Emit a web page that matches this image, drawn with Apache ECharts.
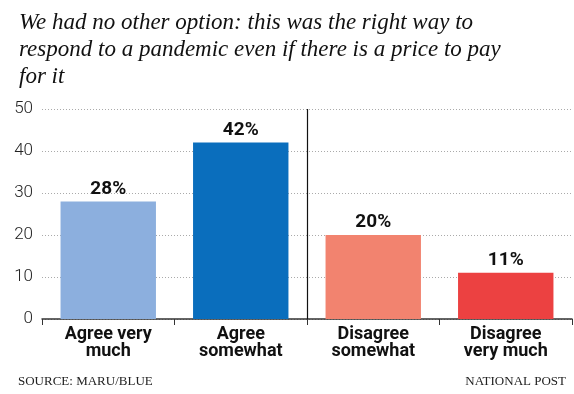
<!DOCTYPE html>
<html><head><meta charset="utf-8">
<script src="https://cdn.jsdelivr.net/npm/echarts@6/dist/echarts.min.js"></script>
<style>html,body{margin:0;padding:0;background:#fff}#c{width:574px;height:394px}</style>
</head><body><div id="c"></div>
<script>
const titleText = "We had no other option: this was the right way to\nrespond to a pandemic even if there is a price to pay\nfor it";
const categories = ["Agree very\nmuch", "Agree\nsomewhat", "Disagree\nsomewhat", "Disagree\nvery much"];
const values = [28, 42, 20, 11];
const barColors = ["#8CAFDE", "#0A6EBD", "#F2836F", "#EC4141"];
const yTicks = { min: 0, max: 50, interval: 10 };
const dividerIndex = 2;
const sourceText = "SOURCE: MARU/BLUE";
const creditText = "NATIONAL POST";

const chart = echarts.init(document.getElementById('c'), null, {renderer: 'canvas'});
chart.setOption({
  animation: false,
  backgroundColor: '#fff',
  title: [{
    text: titleText, left: 14, top: 4,
    textStyle: {fontFamily: 'Liberation Serif', fontStyle: 'italic', fontWeight: 'normal', fontSize: 23, lineHeight: 27, color: '#111'}
  }, {
    text: sourceText, left: 13, top: 370,
    textStyle: {fontFamily: 'Liberation Serif', fontWeight: 'normal', fontSize: 13, color: '#222'}
  }, {
    text: creditText, right: 3, top: 370,
    textStyle: {fontFamily: 'Liberation Serif', fontWeight: 'normal', fontSize: 13, color: '#222'}
  }],
  grid: {left: 42, right: 2, top: 109, bottom: 75},
  xAxis: [{
    type: 'category', data: categories,
    axisLine: {lineStyle: {color: '#333', width: 1.5}},
    axisTick: {show: true, length: 6, lineStyle: {color: '#333'}},
    axisLabel: {fontFamily: 'Roboto', fontWeight: 'bold', fontSize: 18, lineHeight: 17, color: '#111', margin: 7, interval: 0},
    splitLine: {show: false}
  }, {
    type: 'value', show: false, min: 0, max: categories.length,
    splitLine: {show: false}
  }],
  yAxis: {
    type: 'value', min: yTicks.min, max: yTicks.max, interval: yTicks.interval,
    axisLine: {show: false}, axisTick: {show: false},
    axisLabel: {fontFamily: 'Roboto', fontWeight: 300, fontSize: 17, color: '#222', margin: 9},
    splitLine: {lineStyle: {color: '#aaa', type: [1, 2], width: 1}}
  },
  series: [{
    type: 'bar', barWidth: '72%', xAxisIndex: 0,
    data: values.map((v, i) => ({value: v, itemStyle: {color: barColors[i]}})),
    label: {show: true, position: 'top', distance: 3, formatter: '{c}%', fontFamily: 'Roboto', fontWeight: 'bold', fontSize: 19, color: '#111'}
  }, {
    type: 'line', xAxisIndex: 1, data: [],
    markLine: {
      silent: true, symbol: 'none', label: {show: false},
      lineStyle: {color: '#111', width: 1.2, type: 'solid'},
      data: [{xAxis: dividerIndex}]
    }
  }]
});
</script></body></html>
